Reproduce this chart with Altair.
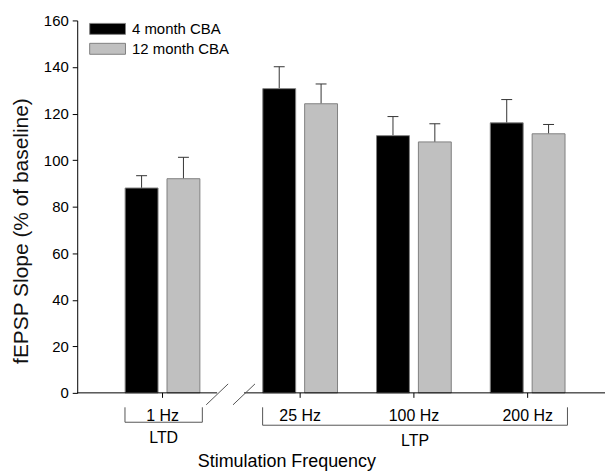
import altair as alt
import pandas as pd

# ---------------- data ----------------
frequencies = ["1 Hz", "25 Hz", "100 Hz", "200 Hz"]
series = ["4 month CBA", "12 month CBA"]
means_4m = [88.0, 130.7, 110.5, 116.0]
sem_4m = [5.3, 9.4, 8.2, 10.0]
means_12m = [92.0, 124.2, 107.8, 111.3]
sem_12m = [9.2, 8.5, 7.8, 4.0]
protocols = ["LTD", "LTP"]
protocol_members = [["1 Hz"], ["25 Hz", "100 Hz", "200 Hz"]]
y_ticks = [0, 20, 40, 60, 80, 100, 120, 140, 160]
y_title = "fEPSP Slope (% of baseline)"
x_title = "Stimulation Frequency"

# ---------------- layout (not data) ----------------
W, H = 530, 374
XMAX = 4.64
slot = {"1 Hz": 0.75, "25 Hz": 1.96, "100 Hz": 2.96, "200 Hz": 3.96}
series_offset = {"4 month CBA": -0.184, "12 month CBA": 0.184}
HALF_BAR = 0.1445
HALF_CAP = 0.048
FONT = "Liberation Sans"

rows = []
for s, means, sems in [(series[0], means_4m, sem_4m), (series[1], means_12m, sem_12m)]:
    for f, m, e in zip(frequencies, means, sems):
        c = slot[f] + series_offset[s]
        rows.append({"freq": f, "grp": s, "val": m, "upper": m + e, "base": 0.0,
                     "xc": c, "xl": c - HALF_BAR, "xr": c + HALF_BAR,
                     "cl": c - HALF_CAP, "cr": c + HALF_CAP})
bars_df = pd.DataFrame(rows)

y_axis = alt.Axis(values=y_ticks, tickSize=5, labelFontSize=15, labelPadding=4,
                  grid=False, domainColor="black", tickColor="black", labelColor="black",
                  title=y_title, titleFontSize=21, titleFontWeight="normal",
                  titleColor="#111111", titlePadding=12, titleY=211)


def X(field):
    return alt.X(field, scale=alt.Scale(domain=[0, XMAX], nice=False, zero=False), axis=None)


def Y(field):
    return alt.Y(field, scale=alt.Scale(domain=[0, 160], nice=False), axis=y_axis)


bars = alt.Chart(bars_df).mark_rect(stroke="#808080", strokeWidth=1).encode(
    x=X("xl:Q"), x2="xr:Q", y=Y("val:Q"), y2="base:Q",
    fill=alt.Fill("grp:N", scale=alt.Scale(domain=series, range=["#000000", "#c0c0c0"]),
                  legend=alt.Legend(orient="none", legendX=23, legendY=1, title=None,
                                    symbolType="M-3.27,-1L3.27,-1L3.27,1L-3.27,1Z",
                                    symbolSize=121,
                                    symbolStrokeColor="#808080", symbolStrokeWidth=1,
                                    labelFontSize=15, labelColor="black", labelOffset=17,
                                    rowPadding=4)),
)

err = alt.Chart(bars_df).mark_rule(color="#333333", strokeWidth=1).encode(
    x=X("xc:Q"), y=Y("val:Q"), y2="upper:Q")
caps = alt.Chart(bars_df).mark_rule(color="#333333", strokeWidth=1).encode(
    x=X("cl:Q"), x2="cr:Q", y=Y("upper:Q"))

layers = [err, caps, bars]

# custom x axis with a break
axis_df = pd.DataFrame({"x0": [0, 1.467], "x1": [1.23, XMAX]})
layers.append(alt.Chart(axis_df).mark_rule(color="black", strokeWidth=1).encode(
    x=X("x0:Q"), x2="x1:Q", y=alt.value(H)))

tick_df = pd.DataFrame({"freq": frequencies, "x": [slot[f] for f in frequencies]})
layers.append(alt.Chart(tick_df).mark_rule(color="black").encode(
    x=X("x:Q"), y=alt.value(H), y2=alt.value(H + 5)))
layers.append(alt.Chart(tick_df).mark_text(fontSize=16, font=FONT, color="black", baseline="middle").encode(
    x=X("x:Q"), y=alt.value(H + 23), text="freq:N"))

drop = {"LTD": 15, "LTP": 18}
for p, members in zip(protocols, protocol_members):
    left = min(slot[m] for m in members) - 0.33
    right = max(slot[m] for m in members) + 0.35
    d = pd.DataFrame({"p": [p], "bl": [left], "brr": [right], "mid": [(left + right) / 2]})
    top = H + 14.5
    bottom = top + drop[p]
    layers.append(alt.Chart(d).mark_rule(color="#555555").encode(
        x=X("bl:Q"), x2="brr:Q", y=alt.value(bottom)))
    layers.append(alt.Chart(d).mark_rule(color="#555555").encode(
        x=X("bl:Q"), y=alt.value(top), y2=alt.value(bottom)))
    layers.append(alt.Chart(d).mark_rule(color="#555555").encode(
        x=X("brr:Q"), y=alt.value(top), y2=alt.value(bottom)))
    layers.append(alt.Chart(d).mark_text(fontSize=16, font=FONT, color="black", baseline="middle").encode(
        x=X("mid:Q"), y=alt.value(bottom + 16), text="p:N"))

slash_df = pd.DataFrame({"x0": [1.134, 1.370], "x1": [1.327, 1.563]})
layers.append(alt.Chart(slash_df).mark_rule(color="#555555").encode(
    x=X("x0:Q"), x2="x1:Q", y=alt.value(H + 12), y2=alt.value(H - 9)))

xt_df = pd.DataFrame({"t": [x_title], "x": [1.843]})
layers.append(alt.Chart(xt_df).mark_text(fontSize=18, font=FONT, color="black", baseline="middle").encode(
    x=X("x:Q"), y=alt.value(H + 69.5), text="t:N"))

chart = alt.layer(*layers).properties(
    width=W, height=H,
    autosize=alt.AutoSizeParams(type="none"),
    padding={"left": 69.5, "top": 11.5, "right": 0, "bottom": 82},
).configure(font=FONT).configure_view(stroke=None)

chart.save("out.html", embed_options={"renderer": "svg", "actions": False})
